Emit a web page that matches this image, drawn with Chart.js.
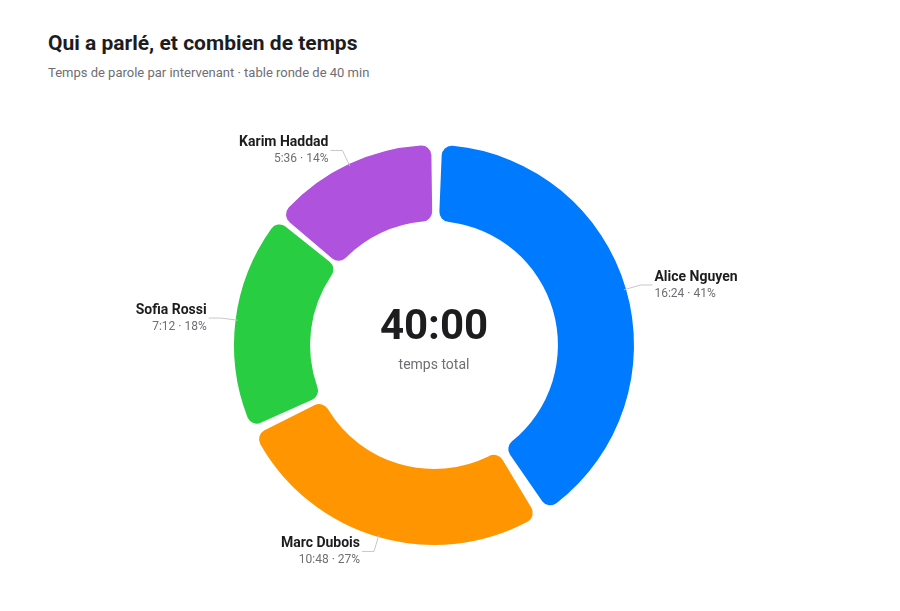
<!DOCTYPE html>
<html><head><meta charset="utf-8">
<script src="https://cdn.jsdelivr.net/npm/chart.js@4"></script>
<style>
body{margin:0;width:900px;height:611px;background:#fff;font-family:Roboto,sans-serif;position:relative;overflow:hidden}
#t{position:absolute;left:48px;top:31px;font-size:21px;font-weight:700;color:#1d1d1f}
#s{position:absolute;left:48px;top:65px;font-size:13px;color:#6e6e73}
#w{position:absolute;left:0;top:95px;width:868px;height:500px}
</style></head><body>
<div id="t">Qui a parlé, et combien de temps</div>
<div id="s">Temps de parole par intervenant · table ronde de 40 min</div>
<div id="w"><canvas id="c"></canvas></div>
<script>
const speakers=["Alice Nguyen","Marc Dubois","Sofia Rossi","Karim Haddad"];
const seconds=[984,648,432,336];
const timeLabels=["16:24","10:48","7:12","5:36"];
const pctLabels=["41%","27%","18%","14%"];
const colors=["#007AFF","#FF9500","#28CD41","#AF52DE"];
const centerValue="40:00", centerLabel="temps total";
const labelsPlugin={id:'lbl',afterDraw(ch){
 const ctx=ch.ctx, meta=ch.getDatasetMeta(0);
 meta.data.forEach((a,i)=>{
  const mid=(a.startAngle+a.endAngle)/2, r=a.outerRadius;
  const cx=a.x, cy=a.y, c=Math.cos(mid), s=Math.sin(mid);
  const x1=cx+c*(r+3), y1=cy+s*(r+3), x2=cx+c*(r+20), y2=cy+s*(r+20);
  const right=c>=0, x3=x2+(right?12:-12);
  ctx.save();ctx.strokeStyle='#c7c7cc';ctx.lineWidth=1;ctx.beginPath();
  ctx.moveTo(x1,y1);ctx.lineTo(x2,y2);ctx.lineTo(x3,y2);ctx.stroke();
  const tx=x3+(right?2:-2);
  ctx.textAlign=right?'left':'right';
  ctx.fillStyle='#1d1d1f';ctx.font='bold 14px Roboto';ctx.textBaseline='bottom';
  ctx.fillText(speakers[i],tx,y2-1);
  ctx.fillStyle='#6e6e73';ctx.font='12px Roboto';ctx.textBaseline='top';
  ctx.fillText(timeLabels[i]+' · '+pctLabels[i],tx,y2+3);
  ctx.restore();
 });
 const a=meta.data[0];
 ctx.save();ctx.textAlign='center';ctx.fillStyle='#1d1d1f';ctx.font='bold 42px Roboto';ctx.textBaseline='middle';
 ctx.fillText(centerValue,a.x,a.y-17);
 ctx.fillStyle='#6e6e73';ctx.font='14px Roboto';ctx.fillText(centerLabel,a.x,a.y+20);ctx.restore();
}};
new Chart(document.getElementById('c'),{type:'doughnut',
 data:{labels:speakers,datasets:[{data:seconds,backgroundColor:colors,borderWidth:0,spacing:10,borderRadius:10}]},
 options:{responsive:true,maintainAspectRatio:false,animation:false,cutout:'61%',
  layout:{padding:{top:50,bottom:50,left:20,right:20}},
  plugins:{legend:{display:false},tooltip:{enabled:false}}},
 plugins:[labelsPlugin]});
</script></body></html>
